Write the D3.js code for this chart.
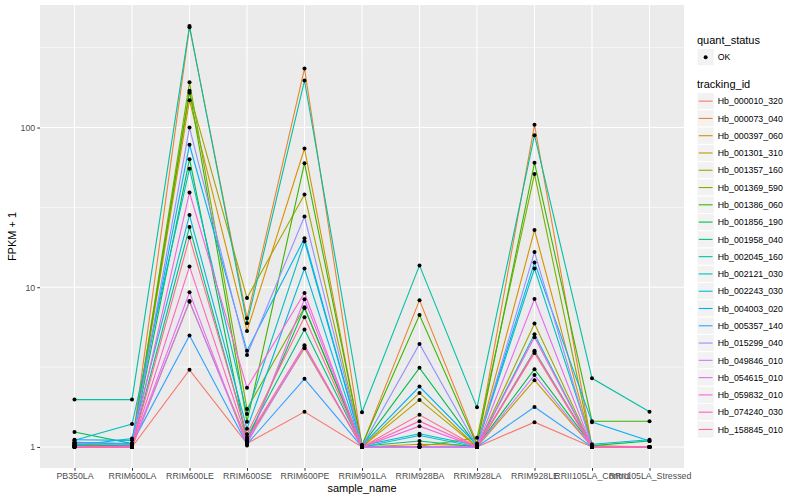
<!DOCTYPE html>
<html>
<head>
<meta charset="utf-8">
<script src="https://cdn.jsdelivr.net/npm/d3@7"></script>
<style>
  body { margin: 0; background: #fff; }
  text { font-family: "Liberation Sans", Arial, sans-serif; }
</style>
</head>
<body>
<svg id="chart" width="800" height="500"></svg>
<script>
const samples = ["PB350LA", "RRIM600LA", "RRIM600LE", "RRIM600SE", "RRIM600PE", "RRIM901LA",
  "RRIM928BA", "RRIM928LA", "RRIM928LE", "RRII105LA_Control", "RRII105LA_Stressed"];

const trackingIds = ["Hb_000010_320", "Hb_000073_040", "Hb_000397_060", "Hb_001301_310", "Hb_001357_160",
  "Hb_001369_590", "Hb_001386_060", "Hb_001856_190", "Hb_001958_040", "Hb_002045_160",
  "Hb_002121_030", "Hb_002243_030", "Hb_004003_020", "Hb_005357_140", "Hb_015299_040",
  "Hb_049846_010", "Hb_054615_010", "Hb_059832_010", "Hb_074240_030", "Hb_158845_010"];

// FPKM + 1, one row per tracking_id, columns follow samples
const fpkm = [
  [1.00, 1.00, 3.04, 1.05, 1.66, 1.00, 1.00, 1.00, 1.43, 1.00, 1.00],
  [1.05, 1.03, 425, 6.40, 234, 1.02, 8.30, 1.05, 104, 1.00, 1.00],
  [1.02, 1.02, 148, 5.33, 73.9, 1.00, 1.04, 1.02, 22.8, 1.02, 1.00],
  [1.00, 1.00, 8.10, 1.10, 4.15, 1.00, 1.97, 1.00, 2.62, 1.00, 1.00],
  [1.03, 1.00, 165, 8.57, 38.1, 1.00, 2.18, 1.00, 5.93, 1.00, 1.00],
  [1.04, 1.02, 192, 1.73, 7.50, 1.00, 1.01, 1.14, 51.1, 1.00, 1.00],
  [1.07, 1.04, 170, 1.44, 59.8, 1.03, 6.70, 1.03, 60.2, 1.45, 1.45],
  [1.24, 1.05, 63.4, 1.08, 7.40, 1.02, 3.13, 1.01, 3.07, 1.02, 1.09],
  [1.03, 1.02, 23.8, 1.15, 5.44, 1.01, 1.09, 1.00, 4.00, 1.01, 1.00],
  [1.98, 1.98, 432, 5.96, 197, 1.65, 13.7, 1.77, 89.5, 2.69, 1.66],
  [1.10, 1.39, 55.2, 1.61, 19.4, 1.02, 1.21, 1.02, 13.1, 1.04, 1.11],
  [1.02, 1.13, 28.3, 1.30, 13.1, 1.00, 1.18, 1.00, 5.08, 1.00, 1.00],
  [1.11, 1.10, 78.0, 4.00, 20.3, 1.02, 2.39, 1.03, 14.3, 1.43, 1.09],
  [1.07, 1.05, 4.99, 1.04, 2.67, 1.00, 1.00, 1.00, 1.78, 1.00, 1.00],
  [1.05, 1.03, 100, 3.76, 27.7, 1.01, 4.42, 1.01, 16.6, 1.00, 1.00],
  [1.00, 1.00, 8.20, 1.06, 4.23, 1.00, 1.00, 1.00, 2.82, 1.00, 1.00],
  [1.00, 1.00, 9.30, 1.02, 8.40, 1.00, 1.00, 1.00, 8.45, 1.00, 1.00],
  [1.00, 1.00, 39.2, 2.35, 9.20, 1.00, 1.35, 1.00, 4.87, 1.00, 1.00],
  [1.00, 1.00, 13.5, 1.12, 4.34, 1.00, 1.45, 1.00, 3.96, 1.00, 1.00],
  [1.00, 1.00, 20.5, 1.20, 6.50, 1.00, 1.59, 1.00, 3.87, 1.00, 1.00]
];

const palette = ["#F8766D", "#EA8331", "#D89000", "#C09B00", "#A3A500", "#7CAE00", "#39B600", "#00BB4E",
  "#00BF7D", "#00C1A3", "#00BFC4", "#00BAE0", "#00B0F6", "#35A2FF", "#9590FF", "#C77CFF",
  "#E76BF3", "#FA62DB", "#FF62BC", "#FF6C91"];

const yTicks = [1, 10, 100];
const yMinor = [Math.sqrt(10), Math.sqrt(1000), Math.sqrt(100000)];

const svg = d3.select("#chart");
const panel = {left: 40, top: 5, right: 684, bottom: 468};

// discrete x with ggplot's 0.6 expansion
const x = d3.scalePoint().domain(samples)
  .range([panel.left, panel.right]).padding(0.6);

// log y with 5% expansion in log space
const logExt = d3.extent(fpkm.flat(), (v) => Math.log10(v));
const pad = (logExt[1] - logExt[0]) * 0.05;
const y = d3.scaleLog()
  .domain([Math.pow(10, logExt[0] - pad), Math.pow(10, logExt[1] + pad)])
  .range([panel.bottom, panel.top]);

const color = d3.scaleOrdinal(trackingIds, palette);

svg.append("rect")
  .attr("x", panel.left).attr("y", panel.top)
  .attr("width", panel.right - panel.left).attr("height", panel.bottom - panel.top)
  .attr("fill", "#EBEBEB");

const grid = svg.append("g");
grid.selectAll(".minor").data(yMinor).enter().append("line")
  .attr("x1", panel.left).attr("x2", panel.right)
  .attr("y1", (d) => y(d)).attr("y2", (d) => y(d))
  .attr("stroke", "#fff").attr("stroke-width", 0.55);
grid.selectAll(".major").data(yTicks).enter().append("line")
  .attr("x1", panel.left).attr("x2", panel.right)
  .attr("y1", (d) => y(d)).attr("y2", (d) => y(d))
  .attr("stroke", "#fff").attr("stroke-width", 1.1);
grid.selectAll(".vx").data(samples).enter().append("line")
  .attr("x1", (d) => x(d)).attr("x2", (d) => x(d))
  .attr("y1", panel.top).attr("y2", panel.bottom)
  .attr("stroke", "#fff").attr("stroke-width", 1.1);

const line = d3.line()
  .x((d, i) => x(samples[i]))
  .y((d) => y(d));

svg.append("g").selectAll("path")
  .data(fpkm)
  .enter().append("path")
    .attr("d", line)
    .attr("fill", "none")
    .attr("stroke", (d, i) => color(trackingIds[i]))
    .attr("stroke-width", 1.1);

const pts = fpkm.flatMap((row) => row.map((v, j) => ({s: samples[j], v: v})));
svg.append("g").selectAll("circle")
  .data(pts)
  .enter().append("circle")
    .attr("cx", (d) => x(d.s))
    .attr("cy", (d) => y(d.v))
    .attr("r", 2)
    .attr("fill", "#000");

// axes
const xAxis = svg.append("g")
  .attr("transform", `translate(0,${panel.bottom})`)
  .call(d3.axisBottom(x).tickSize(2.75).tickPadding(2));
const yAxis = svg.append("g")
  .attr("transform", `translate(${panel.left},0)`)
  .call(d3.axisLeft(y).tickValues(yTicks).tickFormat(d3.format("d")).tickSize(2.75).tickPadding(2));
[xAxis, yAxis].forEach((a) => {
  a.select(".domain").remove();
  a.selectAll(".tick line").attr("stroke", "#333");
  a.selectAll(".tick text").attr("fill", "#4D4D4D")
    .style("font-size", "8.8px").style("font-family", "'Liberation Sans', Arial, sans-serif");
});

svg.append("text")
  .attr("x", (panel.left + panel.right) / 2).attr("y", 492)
  .attr("text-anchor", "middle").style("font-size", "11px").text("sample_name");
svg.append("text")
  .attr("transform", `translate(16,${(panel.top + panel.bottom) / 2}) rotate(-90)`)
  .attr("text-anchor", "middle").style("font-size", "11px").text("FPKM + 1");

// legends
const lx = 697, key = 17.28;
const leg = svg.append("g");
leg.append("text").attr("x", lx).attr("y", 44).style("font-size", "11px").text("quant_status");
leg.append("rect").attr("x", lx).attr("y", 48.5).attr("width", key).attr("height", key)
  .attr("fill", "#F2F2F2").attr("stroke", "#fff");
leg.append("circle").attr("cx", lx + key / 2).attr("cy", 48.5 + key / 2).attr("r", 2).attr("fill", "#000");
leg.append("text").attr("x", lx + key + 3.5).attr("y", 48.5 + key / 2 + 3.2)
  .style("font-size", "8.8px").text("OK");

leg.append("text").attr("x", lx).attr("y", 88).style("font-size", "11px").text("tracking_id");
const items = leg.selectAll(".item").data(trackingIds).enter().append("g")
  .attr("transform", (d, i) => `translate(${lx},${92.5 + i * key})`);
items.append("rect").attr("width", key).attr("height", key)
  .attr("fill", "#F2F2F2").attr("stroke", "#fff");
items.append("line").attr("x1", 1.7).attr("x2", key - 1.7)
  .attr("y1", key / 2).attr("y2", key / 2)
  .attr("stroke", (d) => color(d)).attr("stroke-width", 1.1);
items.append("text").attr("x", key + 3.5).attr("y", key / 2 + 3.2)
  .style("font-size", "8.8px").text((d) => d);
</script>
</body>
</html>
